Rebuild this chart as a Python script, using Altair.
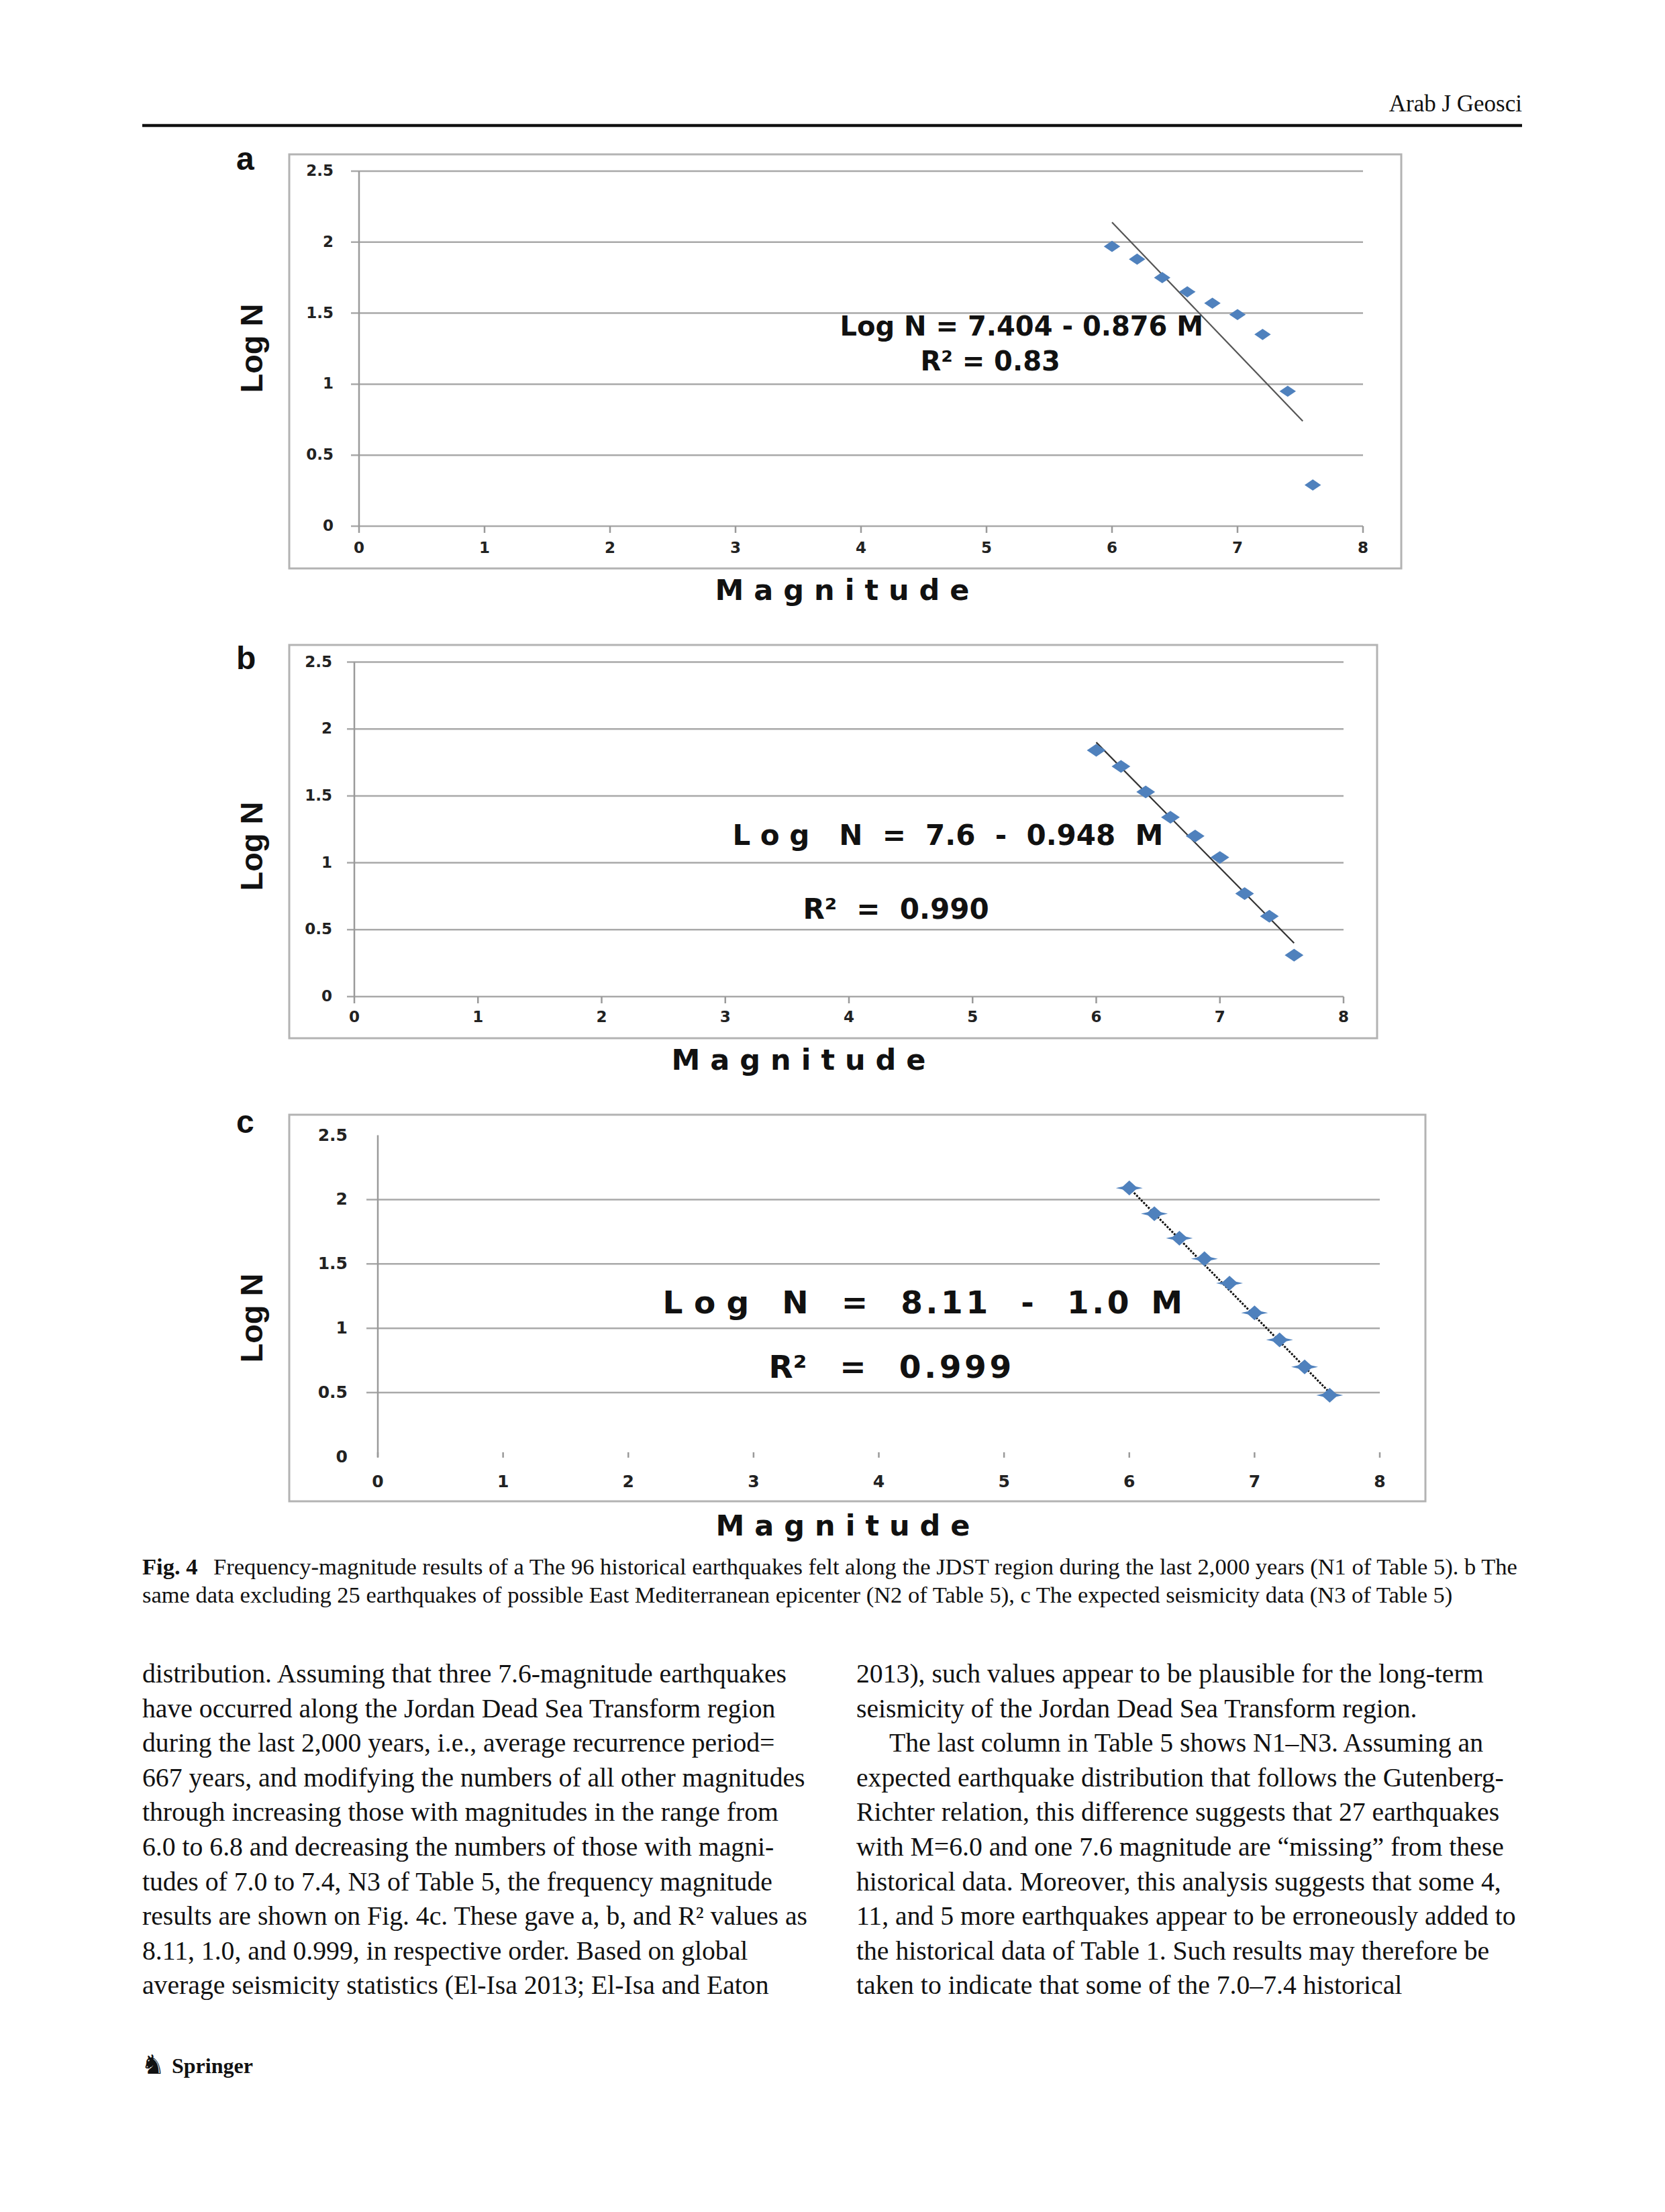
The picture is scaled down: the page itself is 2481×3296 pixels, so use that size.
import altair as alt
import pandas as pd

# ---------------- data ----------------
magnitude = [6.0, 6.2, 6.4, 6.6, 6.8, 7.0, 7.2, 7.4, 7.6]
logN_a = [1.97, 1.88, 1.75, 1.65, 1.57, 1.49, 1.35, 0.95, 0.29]
logN_b = [1.84, 1.72, 1.53, 1.34, 1.20, 1.04, 0.77, 0.60, 0.31]
logN_c = [2.09, 1.89, 1.70, 1.54, 1.35, 1.12, 0.91, 0.70, 0.48]

trend_M_a = [6.0, 7.52]
trend_N_a = [2.14, 0.74]
trend_M_b = [6.0, 7.6]
trend_N_b = [1.90, 0.40]
trend_M_c = [6.0, 7.6]
trend_N_c = [2.09, 0.50]

x_ticks = [0, 1, 2, 3, 4, 5, 6, 7, 8]
x_tick_labels = ["0", "1", "2", "3", "4", "5", "6", "7", "8"]
y_ticks = [0, 0.5, 1, 1.5, 2, 2.5]
y_tick_labels = ["0", "0.5", "1", "1.5", "2", "2.5"]
grid_ab = [0, 0.5, 1, 1.5, 2, 2.5]
grid_c = [0.5, 1, 1.5, 2]

eq_a = "Log N = 7.404 - 0.876 M"
r2_a = "R² = 0.83"
eq_b = "L o g   N  =  7.6  -  0.948  M"
r2_b = "R²  =  0.990"
eq_c = "L o g   N   =   8\u200a.\u200a1\u200a1   -   1\u200a.\u200a0  M"
r2_c = "R²   =   0\u200a.\u200a9\u200a9\u200a9"

header_text = "Arab J Geosci"
caption_bold = "Fig. 4"
caption_line1 = ("Frequency-magnitude results of a The 96 historical earthquakes felt along the JDST "
                 "region during the last 2,000 years (N1 of Table 5). b The")
caption_line2 = ("same data excluding 25 earthquakes of possible East Mediterranean epicenter "
                 "(N2 of Table 5), c The expected seismicity data (N3 of Table 5)")
body_left = [
    "distribution. Assuming that three 7.6-magnitude earthquakes",
    "have occurred along the Jordan Dead Sea Transform region",
    "during the last 2,000 years, i.e., average recurrence period=",
    "667 years, and modifying the numbers of all other magnitudes",
    "through increasing those with magnitudes in the range from",
    "6.0 to 6.8 and decreasing the numbers of those with magni-",
    "tudes of 7.0 to 7.4, N3 of Table 5, the frequency magnitude",
    "results are shown on Fig. 4c. These gave a, b, and R² values as",
    "8.11, 1.0, and 0.999, in respective order. Based on global",
    "average seismicity statistics (El-Isa 2013; El-Isa and Eaton",
]
body_right_1 = [
    "2013), such values appear to be plausible for the long-term",
    "seismicity of the Jordan Dead Sea Transform region.",
]
body_right_2 = ["The last column in Table 5 shows N1–N3. Assuming an"]
body_right_3 = [
    "expected earthquake distribution that follows the Gutenberg-",
    "Richter relation, this difference suggests that 27 earthquakes",
    "with M=6.0 and one 7.6 magnitude are “missing” from these",
    "historical data. Moreover, this analysis suggests that some 4,",
    "11, and 5 more earthquakes appear to be erroneously added to",
    "the historical data of Table 1. Such results may therefore be",
    "taken to indicate that some of the 7.0–7.4 historical",
]
footer_text = "Springer"


def nb(s):
    # keep repeated spaces visible in SVG text
    return s.replace(" ", "\u00a0")


# ---------------- layout (page pixels) ----------------
MARGIN = 8


def P(v):
    return v - MARGIN


BLUE = "#4f81bd"
GRID = "#a9a9a9"
TICKC = "#222222"
SERIF = "Liberation Serif"

DIAMOND_FLAT = "M-1,0L0,-0.68L1,0L0,0.68Z"
DIAMOND_C = "M-1,0L0,-0.9L1,0L0,0.9Z"
BAR_C = "M-1,0L0,-0.22L1,0L0,0.22Z"

panels = {
    "a": dict(x0=535, x8=2031, y0=784, y25=255, box=(431, 230, 2088, 847),
              letter="a", letter_y=253, logn_y=519, mag_x=1255, mag_y=881,
              ylab_dx=-38, xlab_dy=33, grid_off=-12, tick=(0, 10), tick_fs=23,
              eq=(5.28, 1.40), r2=(5.03, 1.153), eq_fs=40,
              trend=dict(color="#555555", strokeWidth=2.2)),
    "b": dict(x0=528, x8=2002, y0=1485, y25=986.5, box=(431, 961, 2052, 1547),
              letter="b", letter_y=997, logn_y=1261, mag_x=1190, mag_y=1581,
              ylab_dx=-33, xlab_dy=31, grid_off=-11, tick=(0, 10), tick_fs=23,
              eq=(4.80, 1.20), r2=(4.38, 0.647), eq_fs=42,
              trend=dict(color="#333333", strokeWidth=2.2)),
    "c": dict(x0=563, x8=2056, y0=2171, y25=1691.5, box=(431, 1661, 2124, 2237),
              letter="c", letter_y=1688, logn_y=1964, mag_x=1256, mag_y=2275,
              ylab_dx=-45, xlab_dy=37, grid_off=-17, tick=(-7, 1), tick_fs=25,
              eq=(4.35, 1.19), r2=(4.09, 0.686), eq_fs=47,
              trend=dict(color="#111111", strokeWidth=3, strokeDash=[3, 2])),
}

one = pd.DataFrame({"k": [0]})


def build_panel(cfg, logN, tM, tN, grid_vals, eq_text, r2_text, markers):
    sx = alt.Scale(domain=[0, 8], range=[P(cfg["x0"]), P(cfg["x8"])], nice=False, zero=False)
    sy = alt.Scale(domain=[0, 2.5], range=[P(cfg["y0"]), P(cfg["y25"])], nice=False, zero=False)

    def xf(f):
        return alt.X(f, type="quantitative", scale=sx, axis=None)

    def yf(f):
        return alt.Y(f, type="quantitative", scale=sy, axis=None)

    def xd(d):
        return alt.X(datum=d, type="quantitative", scale=sx, axis=None)

    def yd(d):
        return alt.Y(datum=d, type="quantitative", scale=sy, axis=None)

    bx0, by0, bx1, by1 = cfg["box"]
    layers = []
    layers.append(
        alt.Chart(one).mark_rect(fill="white", stroke="#b3b3b3", strokeWidth=3).encode(
            x=alt.value(P(bx0)), x2=alt.value(P(bx1)), y=alt.value(P(by0)), y2=alt.value(P(by1)))
    )
    layers.append(
        alt.Chart(pd.DataFrame({"v": grid_vals})).mark_rule(
            color=GRID, strokeWidth=2.5, xOffset=cfg["grid_off"]).encode(
            y=yf("v"), x=xd(0), x2=alt.X2(datum=8))
    )
    layers.append(
        alt.Chart(one).mark_rule(color="#9a9a9a", strokeWidth=2.5).encode(
            x=xd(0), y=yd(0), y2=alt.Y2(datum=2.5))
    )
    layers.append(
        alt.Chart(pd.DataFrame({"v": x_ticks})).mark_rule(
            color="#9a9a9a", strokeWidth=2.5, yOffset=cfg["tick"][0], y2Offset=cfg["tick"][1]).encode(
            x=xf("v"), y=yd(0), y2=alt.Y2(datum=0))
    )
    layers.append(
        alt.Chart(pd.DataFrame({"v": y_ticks, "t": y_tick_labels})).mark_text(
            align="right", baseline="middle", dx=cfg["ylab_dx"], font="DejaVu Sans",
            fontWeight="bold", fontSize=cfg["tick_fs"], color=TICKC).encode(
            y=yf("v"), x=xd(0), text="t:N")
    )
    layers.append(
        alt.Chart(pd.DataFrame({"v": x_ticks, "t": x_tick_labels})).mark_text(
            align="center", baseline="middle", dy=cfg["xlab_dy"], font="DejaVu Sans",
            fontWeight="bold", fontSize=cfg["tick_fs"], color=TICKC).encode(
            x=xf("v"), y=yd(0), text="t:N")
    )
    layers.append(
        alt.Chart(pd.DataFrame({"M": tM, "N": tN})).mark_line(**cfg["trend"]).encode(
            x=xf("M"), y=yf("N"))
    )
    pts = pd.DataFrame({"M": magnitude, "N": logN})
    for shape, size in markers:
        layers.append(
            alt.Chart(pts).mark_point(shape=shape, size=size, filled=True, color=BLUE,
                                      opacity=1, strokeWidth=0).encode(x=xf("M"), y=yf("N"))
        )
    ex, ey = cfg["eq"]
    layers.append(
        alt.Chart(one).mark_text(text=nb(eq_text), font="DejaVu Sans", fontWeight="bold",
                                 fontSize=cfg["eq_fs"], align="center", baseline="middle",
                                 color="#111111").encode(x=xd(ex), y=yd(ey))
    )
    rx, ry = cfg["r2"]
    layers.append(
        alt.Chart(one).mark_text(text=nb(r2_text), font="DejaVu Sans", fontWeight="bold",
                                 fontSize=cfg["eq_fs"], align="center", baseline="middle",
                                 color="#111111").encode(x=xd(rx), y=yd(ry))
    )
    # panel letter, y title and x title
    layers.append(
        alt.Chart(one).mark_text(text=cfg["letter"], font="Liberation Sans", fontWeight="bold",
                                 fontSize=48, align="left", baseline="alphabetic",
                                 color="#111111").encode(x=alt.value(P(352)), y=alt.value(P(cfg["letter_y"])))
    )
    layers.append(
        alt.Chart(one).mark_text(text="Log N", font="Liberation Sans", fontWeight="bold",
                                 fontSize=47, angle=270, align="center", baseline="middle",
                                 color="#111111").encode(x=alt.value(P(377)), y=alt.value(P(cfg["logn_y"])))
    )
    layers.append(
        alt.Chart(one).mark_text(text="M a g n i t u d e", font="DejaVu Sans", fontWeight="bold",
                                 fontSize=43, align="center", baseline="middle",
                                 color="#111111").encode(x=alt.value(P(cfg["mag_x"])), y=alt.value(P(cfg["mag_y"])))
    )
    return layers


layers = []
# page header
layers.append(
    alt.Chart(one).mark_text(text=header_text, font=SERIF, fontSize=35, align="right",
                             baseline="alphabetic", color="#111111").encode(
        x=alt.value(P(2268)), y=alt.value(P(166)))
)
layers.append(
    alt.Chart(one).mark_rule(color="#111111", strokeWidth=4.5).encode(
        x=alt.value(P(212)), x2=alt.value(P(2268)), y=alt.value(P(187)))
)

layers += build_panel(panels["a"], logN_a, trend_M_a, trend_N_a, grid_ab, eq_a, r2_a,
                      [(DIAMOND_FLAT, 600)])
layers += build_panel(panels["b"], logN_b, trend_M_b, trend_N_b, grid_ab, eq_b, r2_b,
                      [(DIAMOND_FLAT, 780)])
layers += build_panel(panels["c"], logN_c, trend_M_c, trend_N_c, grid_c, eq_c, r2_c,
                      [(BAR_C, 1600), (DIAMOND_C, 600)])

# caption
CAP_FS = 34.5
layers.append(
    alt.Chart(one).mark_text(text=caption_bold, font=SERIF, fontWeight="bold", fontSize=CAP_FS,
                             align="left", baseline="alphabetic", color="#111111").encode(
        x=alt.value(P(212)), y=alt.value(P(2346)))
)
layers.append(
    alt.Chart(one).mark_text(text=caption_line1, font=SERIF, fontSize=CAP_FS,
                             align="left", baseline="alphabetic", color="#111111").encode(
        x=alt.value(P(318)), y=alt.value(P(2346)))
)
layers.append(
    alt.Chart(one).mark_text(text=caption_line2, font=SERIF, fontSize=CAP_FS,
                             align="left", baseline="alphabetic", color="#111111").encode(
        x=alt.value(P(212)), y=alt.value(P(2388)))
)

# body text, two columns
LH = 51.6
BODY_FS = 39.7
layers.append(
    alt.Chart(one).mark_text(text=body_left, font=SERIF, fontSize=BODY_FS, lineHeight=LH,
                             align="left", baseline="alphabetic", color="#111111").encode(
        x=alt.value(P(212)), y=alt.value(P(2507)))
)
layers.append(
    alt.Chart(one).mark_text(text=body_right_1, font=SERIF, fontSize=BODY_FS, lineHeight=LH,
                             align="left", baseline="alphabetic", color="#111111").encode(
        x=alt.value(P(1276)), y=alt.value(P(2507)))
)
layers.append(
    alt.Chart(one).mark_text(text=body_right_2, font=SERIF, fontSize=BODY_FS, lineHeight=LH,
                             align="left", baseline="alphabetic", color="#111111").encode(
        x=alt.value(P(1325)), y=alt.value(P(2507 + 2 * LH)))
)
layers.append(
    alt.Chart(one).mark_text(text=body_right_3, font=SERIF, fontSize=BODY_FS, lineHeight=LH,
                             align="left", baseline="alphabetic", color="#111111").encode(
        x=alt.value(P(1276)), y=alt.value(P(2507 + 3 * LH)))
)

# footer
layers.append(
    alt.Chart(one).mark_text(text="♞", font="DejaVu Sans", fontSize=40,
                             align="left", baseline="alphabetic", color="#111111").encode(
        x=alt.value(P(210)), y=alt.value(P(3090)))
)
layers.append(
    alt.Chart(one).mark_text(text=footer_text, font=SERIF, fontWeight="bold", fontSize=32,
                             align="left", baseline="alphabetic", color="#111111").encode(
        x=alt.value(P(256)), y=alt.value(P(3089)))
)

chart = (
    alt.layer(*layers)
    .resolve_scale(x="independent", y="independent")
    .properties(width=2465, height=3280, padding=0, autosize="none", background="white")
    .configure_view(stroke=None)
)

chart.save("out.html", embed_options={"renderer": "svg", "actions": False})
